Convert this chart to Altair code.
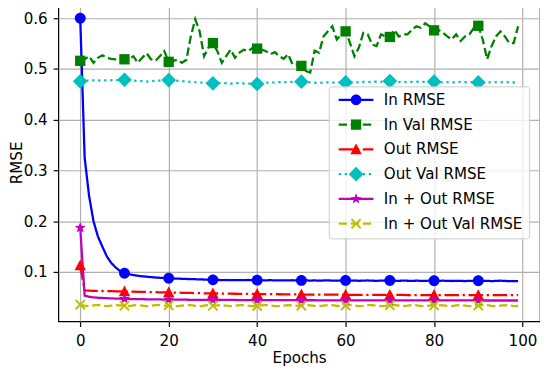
import altair as alt
import pandas as pd

epochs = list(range(100))

series_names = ["In RMSE", "In Val RMSE", "Out RMSE", "Out Val RMSE",
                "In + Out RMSE", "In + Out Val RMSE"]

in_rmse = [0.600, 0.325, 0.250, 0.200, 0.170, 0.150, 0.131, 0.118, 0.109, 0.102,
           0.0975, 0.0955, 0.0940, 0.0927, 0.0916, 0.0907, 0.0899, 0.0892, 0.0886, 0.0881,
           0.0877, 0.0873, 0.0870, 0.0866, 0.0863, 0.0860, 0.0858, 0.0855, 0.0852, 0.0849,
           0.0846, 0.0844, 0.0841, 0.0843, 0.0840, 0.0842, 0.0838, 0.0841, 0.0843, 0.0839,
           0.0840, 0.0838, 0.0836, 0.0839, 0.0835, 0.0837, 0.0834, 0.0836, 0.0838, 0.0833,
           0.0834, 0.0836, 0.0831, 0.0834, 0.0830, 0.0833, 0.0835, 0.0830, 0.0828, 0.0831,
           0.0832, 0.0829, 0.0833, 0.0827, 0.0830, 0.0834, 0.0829, 0.0826, 0.0831, 0.0828,
           0.0832, 0.0829, 0.0826, 0.0831, 0.0828, 0.0824, 0.0829, 0.0827, 0.0825, 0.0830,
           0.0828, 0.0825, 0.0829, 0.0826, 0.0823, 0.0828, 0.0825, 0.0822, 0.0827, 0.0824,
           0.0828, 0.0823, 0.0826, 0.0821, 0.0825, 0.0829, 0.0824, 0.0820, 0.0823, 0.0819]

in_val_rmse = [0.516, 0.519, 0.525, 0.512, 0.522, 0.527, 0.522, 0.520, 0.519, 0.520,
               0.519, 0.519, 0.525, 0.512, 0.522, 0.531, 0.519, 0.516, 0.525, 0.535,
               0.514, 0.516, 0.518, 0.512, 0.518, 0.564, 0.598, 0.574, 0.525, 0.542,
               0.551, 0.535, 0.512, 0.525, 0.538, 0.522, 0.532, 0.538, 0.535, 0.542,
               0.540, 0.538, 0.535, 0.529, 0.533, 0.525, 0.520, 0.529, 0.509, 0.509,
               0.506, 0.496, 0.493, 0.536, 0.532, 0.564, 0.574, 0.584, 0.558, 0.568,
               0.574, 0.551, 0.525, 0.542, 0.571, 0.568, 0.548, 0.545, 0.568, 0.564,
               0.563, 0.577, 0.564, 0.568, 0.568, 0.577, 0.584, 0.581, 0.590, 0.584,
               0.576, 0.577, 0.571, 0.564, 0.558, 0.568, 0.555, 0.564, 0.568, 0.581,
               0.585, 0.558, 0.519, 0.545, 0.564, 0.574, 0.564, 0.551, 0.551, 0.584]

out_rmse = [0.113, 0.0636, 0.0633, 0.0630, 0.0628, 0.0626, 0.0624, 0.0622, 0.0620, 0.0619,
            0.0617, 0.0615, 0.0613, 0.0611, 0.0609, 0.0607, 0.0605, 0.0603, 0.0601, 0.0599,
            0.0597, 0.0595, 0.0593, 0.0591, 0.0589, 0.0587, 0.0585, 0.0583, 0.0581, 0.0579,
            0.0578, 0.0577, 0.0576, 0.0574, 0.0573, 0.0572, 0.0571, 0.0570, 0.0569, 0.0568,
            0.0567, 0.0566, 0.0565, 0.0564, 0.0563, 0.0562, 0.0561, 0.0560, 0.0559, 0.0558,
            0.0557, 0.0556, 0.0556, 0.0555, 0.0555, 0.0554, 0.0554, 0.0553, 0.0553, 0.0552,
            0.0552, 0.0551, 0.0551, 0.0551, 0.0550, 0.0550, 0.0550, 0.0549, 0.0549, 0.0549,
            0.0548, 0.0548, 0.0548, 0.0548, 0.0547, 0.0547, 0.0547, 0.0547, 0.0546, 0.0546,
            0.0546, 0.0546, 0.0546, 0.0545, 0.0545, 0.0545, 0.0545, 0.0545, 0.0544, 0.0544,
            0.0544, 0.0544, 0.0544, 0.0544, 0.0543, 0.0543, 0.0543, 0.0543, 0.0543, 0.0543]

out_val_rmse = [0.4755, 0.4772, 0.4768, 0.4775, 0.4770, 0.4778, 0.4772, 0.4776, 0.4781, 0.4779,
                0.4787, 0.4776, 0.4770, 0.4764, 0.4758, 0.4752, 0.4760, 0.4768, 0.4772, 0.4776,
                0.4780, 0.4772, 0.4766, 0.4758, 0.4752, 0.4745, 0.4738, 0.4733, 0.4726, 0.4721,
                0.4716, 0.4720, 0.4726, 0.4718, 0.4712, 0.4717, 0.4722, 0.4714, 0.4709, 0.4712,
                0.4703, 0.4718, 0.4728, 0.4735, 0.4731, 0.4738, 0.4742, 0.4736, 0.4744, 0.4740,
                0.4750, 0.4741, 0.4735, 0.4728, 0.4722, 0.4730, 0.4736, 0.4729, 0.4733, 0.4738,
                0.4735, 0.4740, 0.4733, 0.4738, 0.4744, 0.4739, 0.4745, 0.4750, 0.4746, 0.4752,
                0.4760, 0.4748, 0.4742, 0.4746, 0.4740, 0.4744, 0.4748, 0.4743, 0.4747, 0.4751,
                0.4750, 0.4741, 0.4736, 0.4740, 0.4735, 0.4739, 0.4743, 0.4738, 0.4741, 0.4737,
                0.4735, 0.4739, 0.4734, 0.4738, 0.4742, 0.4736, 0.4740, 0.4737, 0.4733, 0.4736]

inout_rmse = [0.187, 0.0533, 0.0512, 0.0500, 0.0493, 0.0488, 0.0484, 0.0480, 0.0477, 0.0474,
              0.0471, 0.0469, 0.0467, 0.0465, 0.0464, 0.0463, 0.0461, 0.0460, 0.0459, 0.0458,
              0.0457, 0.0456, 0.0455, 0.0455, 0.0454, 0.0453, 0.0453, 0.0452, 0.0452, 0.0451,
              0.0451, 0.0450, 0.0450, 0.0449, 0.0449, 0.0449, 0.0448, 0.0448, 0.0448, 0.0447,
              0.0447, 0.0447, 0.0446, 0.0446, 0.0446, 0.0445, 0.0445, 0.0445, 0.0445, 0.0444,
              0.0444, 0.0444, 0.0444, 0.0444, 0.0443, 0.0443, 0.0443, 0.0443, 0.0443, 0.0443,
              0.0442, 0.0442, 0.0442, 0.0442, 0.0442, 0.0442, 0.0442, 0.0441, 0.0441, 0.0441,
              0.0441, 0.0441, 0.0441, 0.0441, 0.0441, 0.0441, 0.0440, 0.0440, 0.0440, 0.0440,
              0.0440, 0.0440, 0.0440, 0.0440, 0.0440, 0.0440, 0.0440, 0.0440, 0.0440, 0.0440,
              0.0440, 0.0439, 0.0439, 0.0439, 0.0439, 0.0439, 0.0439, 0.0439, 0.0439, 0.0439]

inout_val_rmse = [0.0358, 0.0335, 0.0330, 0.0345, 0.0352, 0.0340, 0.0328, 0.0338, 0.0350, 0.0344,
                  0.0336, 0.0330, 0.0342, 0.0351, 0.0339, 0.0327, 0.0335, 0.0348, 0.0352, 0.0340,
                  0.0345, 0.0331, 0.0326, 0.0339, 0.0350, 0.0346, 0.0333, 0.0325, 0.0338, 0.0349,
                  0.0336, 0.0342, 0.0351, 0.0337, 0.0326, 0.0334, 0.0347, 0.0350, 0.0338, 0.0329,
                  0.0333, 0.0345, 0.0352, 0.0341, 0.0330, 0.0327, 0.0339, 0.0349, 0.0343, 0.0332,
                  0.0337, 0.0348, 0.0344, 0.0331, 0.0326, 0.0338, 0.0350, 0.0346, 0.0334, 0.0329,
                  0.0340, 0.0351, 0.0341, 0.0330, 0.0335, 0.0347, 0.0349, 0.0336, 0.0327, 0.0332,
                  0.0344, 0.0350, 0.0339, 0.0328, 0.0336, 0.0348, 0.0345, 0.0333, 0.0326, 0.0337,
                  0.0342, 0.0351, 0.0343, 0.0331, 0.0329, 0.0341, 0.0350, 0.0338, 0.0327, 0.0334,
                  0.0339, 0.0348, 0.0346, 0.0332, 0.0325, 0.0339, 0.0349, 0.0342, 0.0330, 0.0335]

series_values = [in_rmse, in_val_rmse, out_rmse, out_val_rmse, inout_rmse, inout_val_rmse]

x_ticks = [0, 20, 40, 60, 80, 100]
y_ticks = [0.1, 0.2, 0.3, 0.4, 0.5, 0.6]

# styles
FONT = "DejaVu Sans"
FS = 15.3
LW = 2.3
colors = ["#0000ff", "#008000", "#ff0000", "#00bfbf", "#bf00bf", "#bfbf00"]
dashes = [[1, 0], [8.5, 3.7], [14.7, 3.7, 2.3, 3.7], [2.3, 3.8], [1, 0], [8.5, 3.7]]
marker_shapes = [
    "M-1,0A1,1,0,1,1,1,0A1,1,0,1,1,-1,0Z",
    "M-0.95,-0.95L0.95,-0.95L0.95,0.95L-0.95,0.95Z",
    "M0,-1.1L1.05,0.9L-1.05,0.9Z",
    "M-1.35,0L0,-1.35L1.35,0L0,1.35Z",
    "M0,-1.05L0.265,-0.364L0.999,-0.325L0.428,0.139L0.617,0.85L0,0.45L-0.617,0.85L-0.428,0.139L-0.999,-0.325L-0.265,-0.364Z",
    "M0,0.255L-0.721,0.976L-0.976,0.721L-0.255,0L-0.976,-0.721L-0.721,-0.976L0,-0.255L0.721,-0.976L0.976,-0.721L0.255,0L0.976,0.721L0.721,0.976Z",
]
LEG_LINE = "M-3.2,0L3.2,0"

# marker legend uses its own (visually identical) keys so it stays a separate legend
marker_keys = [n + " " for n in series_names]

rows = []
for name, mkey, vals in zip(series_names, marker_keys, series_values):
    for e, v in zip(epochs, vals):
        rows.append({"epoch": e, "value": v, "series": name, "series_m": mkey})
df = pd.DataFrame(rows)

sc_color = alt.Scale(domain=series_names, range=colors)
sc_dash = alt.Scale(domain=series_names, range=dashes)
sc_fill_m = alt.Scale(domain=marker_keys, range=colors)
sc_shape_m = alt.Scale(domain=marker_keys, range=marker_shapes)

x = alt.X("epoch:Q", scale=alt.Scale(domain=[-4.95, 103.95], nice=False, zero=False),
          axis=alt.Axis(values=x_ticks, title="Epochs", labelPadding=7.5, titlePadding=2))
y = alt.Y("value:Q", scale=alt.Scale(domain=[0.003, 0.629], nice=False, zero=False),
          axis=alt.Axis(values=y_ticks, format=".1f", title="RMSE", labelPadding=6, titlePadding=-1.5))

common = dict(orient="none", legendX=274, legendY=84, title=None, padding=6,
              rowPadding=9.1, symbolOffset=14, labelOffset=20.5,
              labelFont=FONT, labelFontSize=FS, symbolSize=121, cornerRadius=3)

leg_lines = alt.Legend(labelColor="black", fillColor="rgba(255,255,255,0.8)",
                       strokeColor="#cccccc", symbolStrokeWidth=LW,
                       symbolType=LEG_LINE, zindex=1, **common)
leg_marks = alt.Legend(labelColor="black", labelOpacity=0,
                       fillColor="rgba(255,255,255,0)", strokeColor="rgba(255,255,255,0)",
                       symbolStrokeWidth=0, zindex=2, **common)

base = alt.Chart(df)

lines = base.mark_line(strokeWidth=LW).encode(
    x=x, y=y,
    stroke=alt.Stroke("series:N", scale=sc_color, legend=leg_lines),
    strokeDash=alt.StrokeDash("series:N", scale=sc_dash, legend=leg_lines),
)

markers = base.transform_filter("datum.epoch % 10 == 0").mark_point(
    filled=True, size=121, strokeWidth=0, opacity=1
).encode(
    x=x, y=y,
    fill=alt.Fill("series_m:N", scale=sc_fill_m, legend=leg_marks),
    shape=alt.Shape("series_m:N", scale=sc_shape_m, legend=leg_marks),
)

chart = alt.layer(lines, markers).properties(
    width=488, height=322,
    padding={"left": 51, "top": -7, "right": 0, "bottom": 47},
    autosize=alt.AutoSizeParams(type="none"),
).configure_view(
    stroke="black", strokeWidth=1.2
).configure_axis(
    domain=False, grid=True, gridColor="#b0b0b0", gridWidth=1.2, gridOpacity=1,
    tickColor="black", tickSize=5.3, tickWidth=1.2,
    labelFont=FONT, labelFontSize=FS, labelColor="black",
    titleFont=FONT, titleFontSize=FS, titleFontWeight="normal", titleColor="black",
).configure_legend(
    symbolFillColor="#000000", symbolStrokeColor="#000000"
)

chart.save("out.html", embed_options={"renderer": "svg", "actions": False})
